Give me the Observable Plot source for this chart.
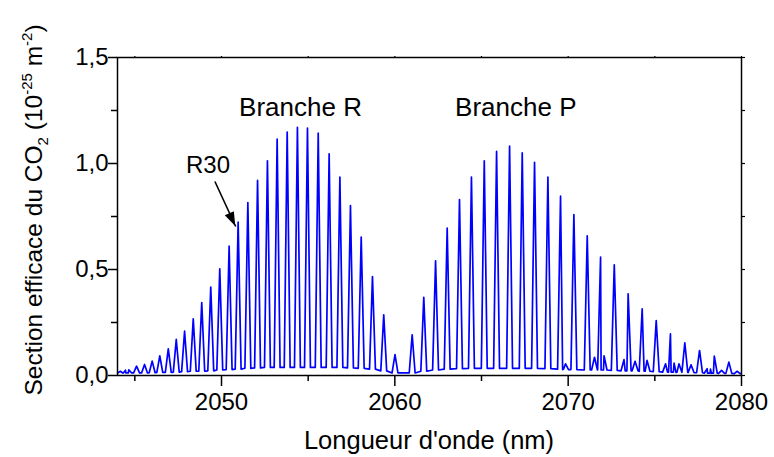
<!DOCTYPE html>
<html>
<head>
<meta charset="utf-8">
<script src="https://cdn.jsdelivr.net/npm/d3@7"></script>
<script src="https://cdn.jsdelivr.net/npm/@observablehq/plot@0.6"></script>
<style>
  html, body { margin: 0; padding: 0; background: white; }
</style>
</head>
<body>
<div id="chart"></div>
<script>
// ---- Data ----
// Main rotational lines (R branch then P branch): wavelength (nm), peak cross-section (1e-25 m^2)
const lineNm = [
  2044.17, 2044.46, 2044.65, 2045.10, 2045.56, 2046.00, 2046.44, 2046.93, 2047.39, 2047.87,
  2048.37, 2048.86, 2049.38, 2049.90, 2050.44, 2050.96, 2051.52, 2052.08, 2052.65, 2053.21,
  2053.79, 2054.38, 2054.96, 2055.58, 2056.21, 2056.83, 2057.44, 2058.06, 2058.71, 2059.36,
  2060.01,
  2061.00, 2061.67, 2062.35, 2063.02, 2063.73, 2064.42, 2065.16, 2065.87, 2066.62, 2067.35,
  2068.06, 2068.83, 2069.56, 2070.33, 2071.10, 2071.87, 2072.66, 2073.46, 2074.27, 2075.08,
  2075.90, 2076.73, 2077.58, 2078.43, 2079.27
];
const lineValue = [
  0.020, 0.025, 0.027, 0.044, 0.052, 0.068, 0.093, 0.126, 0.170, 0.209,
  0.267, 0.344, 0.417, 0.503, 0.610, 0.723, 0.816, 0.920, 1.013, 1.115,
  1.148, 1.171, 1.167, 1.143, 1.046, 0.936, 0.802, 0.653, 0.467, 0.286,
  0.099,
  0.192, 0.369, 0.541, 0.695, 0.830, 0.936, 1.013, 1.057, 1.082, 1.050,
  1.006, 0.936, 0.846, 0.759, 0.659, 0.558, 0.522, 0.385, 0.314, 0.259,
  0.196, 0.154, 0.118, 0.091, 0.063
];
// local baseline level at the foot of each main line
const lineFoot = [
  0.012, 0.012, 0.012, 0.012, 0.012, 0.013, 0.015, 0.015, 0.016, 0.018,
  0.020, 0.020, 0.022, 0.026, 0.028, 0.030, 0.034, 0.036, 0.038, 0.038,
  0.038, 0.038, 0.038, 0.038, 0.038, 0.038, 0.036, 0.034, 0.030, 0.022,
  0.012,
  0.012, 0.020, 0.026, 0.030, 0.032, 0.034, 0.034, 0.034, 0.034, 0.034,
  0.034, 0.032, 0.030, 0.028, 0.026, 0.026, 0.024, 0.022, 0.020, 0.018,
  0.016, 0.015, 0.013, 0.011, 0.010
];
// weak (hot-band) lines in the P branch
const weakNm = [2069.85, 2071.52, 2072.07, 2073.22, 2073.86, 2074.55, 2075.62, 2076.11, 2076.39, 2077.09, 2078.02, 2078.21, 2078.85, 2079.75];
const weakValue = [0.055, 0.086, 0.093, 0.075, 0.067, 0.071, 0.055, 0.058, 0.055, 0.050, 0.032, 0.030, 0.024, 0.020];
const weakFoot = [0.028, 0.026, 0.026, 0.022, 0.022, 0.020, 0.016, 0.016, 0.015, 0.014, 0.011, 0.011, 0.010, 0.009];
// spectrum ends
const edgeNm = [2044.0, 2080.0];
const edgeValue = [0.010, 0.008];

// axis ticks
const xMajor = [2050, 2060, 2070, 2080];
const xMinor = [2045, 2055, 2065, 2075];
const yMajor = [0, 0.5, 1.0, 1.5];
const yMinor = [0.25, 0.75, 1.25];

// text annotations
const branchText = ["Branche R", "Branche P"];
const branchNm = [2054.56, 2066.98];
const branchValue = [1.262, 1.262];
const labelText = ["R30"];
const labelNm = [2049.22];
const labelValue = [0.99];
// arrow pointing to R30
const arrowFrom = [2049.62, 0.915];
const arrowTo = [2050.82, 0.703];

// ---- Build the drawn spectrum (each line drawn as a narrow spike) ----
const halfWidth = 0.17; // nm, drawing width of a spike
const pts = [];
pts.push({x: edgeNm[0], y: edgeValue[0]});
const allLines = lineNm.map((nm, i) => ({nm, v: lineValue[i], f: lineFoot[i]}))
  .concat(weakNm.map((nm, i) => ({nm, v: weakValue[i], f: weakFoot[i]})))
  .sort((a, b) => a.nm - b.nm);
allLines.forEach(l => {
  pts.push({x: l.nm - halfWidth, y: l.f});
  pts.push({x: l.nm, y: l.v});
  pts.push({x: l.nm + halfWidth, y: l.f});
});
pts.push({x: edgeNm[1], y: edgeValue[1]});
pts.sort((a, b) => a.x - b.x);

const branches = branchText.map((t, i) => ({t, x: branchNm[i], y: branchValue[i]}));
const labels = labelText.map((t, i) => ({t, x: labelNm[i], y: labelValue[i]}));

const fmt = d => d.toFixed(1).replace(".", ",");
const font = "'Liberation Sans', Arial, Helvetica, sans-serif";

const plot = Plot.plot({
  width: 774,
  height: 457,
  marginLeft: 117,
  marginRight: 33,
  marginTop: 57,
  marginBottom: 82,
  style: {fontFamily: font, fontSize: "24px", color: "black", background: "white", overflow: "visible"},
  x: {domain: [2044, 2080]},
  y: {domain: [0, 1.5]},
  marks: [
    Plot.line(pts, {x: "x", y: "y", stroke: "#0000ff", strokeWidth: 1.7, clip: true}),
    Plot.frame({stroke: "black", strokeWidth: 1.5}),
    Plot.axisX(xMajor, {tickSize: 11, tickPadding: 6, tickFormat: d => String(d), fontSize: 24, label: null, strokeWidth: 1.5}),
    Plot.axisX(xMinor, {tickSize: 6, tickFormat: () => "", label: null, strokeWidth: 1.5}),
    Plot.axisX(xMajor.concat(xMinor), {anchor: "top", tickSize: 2, tickFormat: () => "", label: null, strokeWidth: 1.2}),
    Plot.axisY(yMajor, {tickSize: 9, tickPadding: 0, tickFormat: fmt, fontSize: 24, label: null, strokeWidth: 1.5}),
    Plot.axisY(yMinor, {tickSize: 6, tickFormat: () => "", label: null, strokeWidth: 1.5}),
    Plot.axisY(yMajor.concat(yMinor), {anchor: "right", tickSize: 3, tickFormat: () => "", label: null, strokeWidth: 1.2}),
    Plot.text(branches, {x: "x", y: "y", text: "t", fontSize: 26, fill: "black", textAnchor: "middle", lineAnchor: "middle"}),
    Plot.text(labels, {x: "x", y: "y", text: "t", fontSize: 24, fill: "black", textAnchor: "middle", lineAnchor: "middle"}),
    Plot.link([{x1: arrowFrom[0], y1: arrowFrom[1], x2: arrowTo[0], y2: arrowTo[1]}],
      {x1: "x1", y1: "y1", x2: "x2", y2: "y2", stroke: "black", strokeWidth: 1.6})
  ]
});

// filled arrowhead at the arrow tip, placed through the plot's scales
const sx = plot.scale("x"), sy = plot.scale("y");
const x0 = sx.apply(arrowFrom[0]), y0 = sy.apply(arrowFrom[1]);
const x1 = sx.apply(arrowTo[0]), y1 = sy.apply(arrowTo[1]);
const ang = Math.atan2(y1 - y0, x1 - x0);
const L = 14, W = 5;
const bx = x1 - L * Math.cos(ang), by = y1 - L * Math.sin(ang);
const nx = -Math.sin(ang), ny = Math.cos(ang);
d3.select(plot).append("path")
  .attr("d", `M${x1},${y1}L${bx + W * nx},${by + W * ny}L${bx - W * nx},${by - W * ny}Z`)
  .attr("fill", "black");

// axis titles
const svg = d3.select(plot);
svg.append("text")
  .attr("x", (117 + 741) / 2).attr("y", 449)
  .attr("text-anchor", "middle")
  .attr("font-family", font).attr("font-size", 25.5).attr("fill", "black")
  .text("Longueur d'onde (nm)");

const yt = svg.append("text")
  .attr("transform", "translate(42,210) rotate(-90)")
  .attr("text-anchor", "middle")
  .attr("font-family", font).attr("font-size", 24.5).attr("fill", "black");
yt.append("tspan").text("Section efficace du CO");
yt.append("tspan").attr("font-size", 15).attr("dy", 6).text("2");
yt.append("tspan").attr("dy", -6).text(" (10");
yt.append("tspan").attr("font-size", 15).attr("dy", -10).text("-25");
yt.append("tspan").attr("dy", 10).text(" m");
yt.append("tspan").attr("font-size", 15).attr("dy", -10).text("-2");
yt.append("tspan").attr("dy", 10).text(")");

document.getElementById("chart").appendChild(plot);
</script>
</body>
</html>
